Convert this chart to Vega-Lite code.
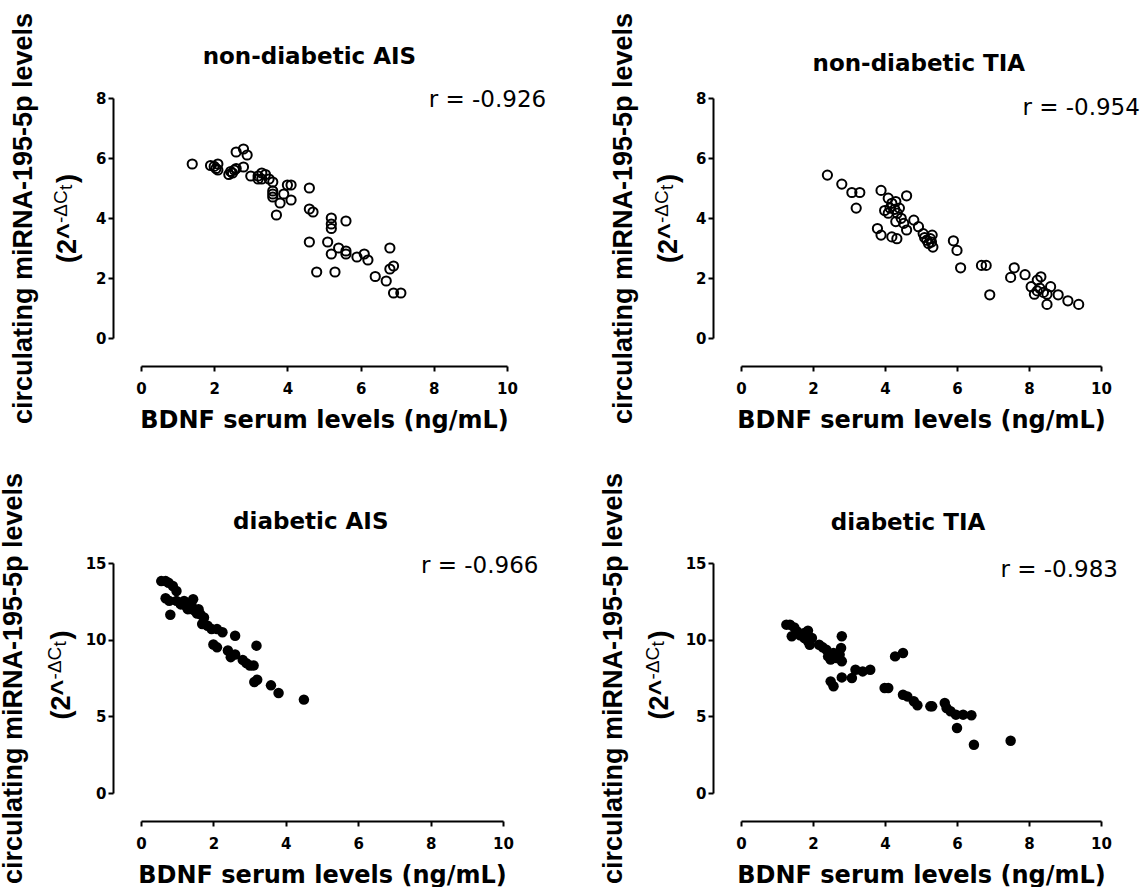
{
  "$schema": "https://vega.github.io/schema/vega-lite/v6.json",
  "background": "white",
  "padding": {"left": -1, "top": 12, "right": 0, "bottom": 0},
  "bounds": "flush",
  "columns": 2,
  "spacing": {"row": 225, "column": 234},
  "datasets": {
    "nd_ais": [
      {"bdnf": 1.4, "mirna": 5.8}, {"bdnf": 1.9, "mirna": 5.75}, {"bdnf": 2.0, "mirna": 5.72}, {"bdnf": 2.1, "mirna": 5.8},
      {"bdnf": 2.05, "mirna": 5.65}, {"bdnf": 2.1, "mirna": 5.6}, {"bdnf": 2.4, "mirna": 5.45}, {"bdnf": 2.45, "mirna": 5.55},
      {"bdnf": 2.5, "mirna": 5.5}, {"bdnf": 2.55, "mirna": 5.6}, {"bdnf": 2.6, "mirna": 5.65}, {"bdnf": 2.6, "mirna": 6.2},
      {"bdnf": 2.8, "mirna": 6.3}, {"bdnf": 2.9, "mirna": 6.1}, {"bdnf": 2.8, "mirna": 5.7}, {"bdnf": 3.0, "mirna": 5.4},
      {"bdnf": 3.2, "mirna": 5.4}, {"bdnf": 3.3, "mirna": 5.5}, {"bdnf": 3.4, "mirna": 5.45}, {"bdnf": 3.3, "mirna": 5.3},
      {"bdnf": 3.2, "mirna": 5.3}, {"bdnf": 3.5, "mirna": 5.3}, {"bdnf": 3.6, "mirna": 5.2}, {"bdnf": 3.6, "mirna": 4.9},
      {"bdnf": 3.6, "mirna": 4.8}, {"bdnf": 3.6, "mirna": 4.7}, {"bdnf": 3.7, "mirna": 4.1}, {"bdnf": 3.8, "mirna": 4.5},
      {"bdnf": 3.9, "mirna": 4.8}, {"bdnf": 4.0, "mirna": 5.1}, {"bdnf": 4.1, "mirna": 5.1}, {"bdnf": 4.1, "mirna": 4.6},
      {"bdnf": 4.6, "mirna": 5.0}, {"bdnf": 4.6, "mirna": 4.3}, {"bdnf": 4.7, "mirna": 4.2}, {"bdnf": 4.6, "mirna": 3.2},
      {"bdnf": 4.8, "mirna": 2.2}, {"bdnf": 5.1, "mirna": 3.2}, {"bdnf": 5.2, "mirna": 4.0}, {"bdnf": 5.2, "mirna": 3.8},
      {"bdnf": 5.2, "mirna": 3.65}, {"bdnf": 5.2, "mirna": 2.8}, {"bdnf": 5.3, "mirna": 2.2}, {"bdnf": 5.4, "mirna": 3.0},
      {"bdnf": 5.6, "mirna": 3.9}, {"bdnf": 5.6, "mirna": 2.9}, {"bdnf": 5.6, "mirna": 2.8}, {"bdnf": 5.9, "mirna": 2.7},
      {"bdnf": 6.1, "mirna": 2.8}, {"bdnf": 6.2, "mirna": 2.6}, {"bdnf": 6.4, "mirna": 2.05}, {"bdnf": 6.7, "mirna": 1.9},
      {"bdnf": 6.8, "mirna": 3.0}, {"bdnf": 6.8, "mirna": 2.3}, {"bdnf": 6.9, "mirna": 2.4}, {"bdnf": 6.9, "mirna": 1.5},
      {"bdnf": 7.1, "mirna": 1.5}
    ],
    "nd_tia": [
      {"bdnf": 2.4, "mirna": 5.43}, {"bdnf": 2.8, "mirna": 5.13}, {"bdnf": 3.08, "mirna": 4.85}, {"bdnf": 3.3, "mirna": 4.85},
      {"bdnf": 3.2, "mirna": 4.33}, {"bdnf": 3.89, "mirna": 4.92}, {"bdnf": 3.79, "mirna": 3.65}, {"bdnf": 3.89, "mirna": 3.43},
      {"bdnf": 4.19, "mirna": 3.37}, {"bdnf": 4.33, "mirna": 3.31}, {"bdnf": 3.99, "mirna": 4.25}, {"bdnf": 4.09, "mirna": 4.16},
      {"bdnf": 4.09, "mirna": 4.66}, {"bdnf": 4.19, "mirna": 4.49}, {"bdnf": 4.3, "mirna": 4.55}, {"bdnf": 4.14, "mirna": 4.33},
      {"bdnf": 4.27, "mirna": 4.29}, {"bdnf": 4.34, "mirna": 4.16}, {"bdnf": 4.4, "mirna": 4.33}, {"bdnf": 4.45, "mirna": 3.99},
      {"bdnf": 4.3, "mirna": 3.88}, {"bdnf": 4.6, "mirna": 4.74}, {"bdnf": 4.6, "mirna": 3.6}, {"bdnf": 4.52, "mirna": 3.82},
      {"bdnf": 4.8, "mirna": 3.93}, {"bdnf": 4.93, "mirna": 3.71}, {"bdnf": 5.06, "mirna": 3.48}, {"bdnf": 5.1, "mirna": 3.35},
      {"bdnf": 5.16, "mirna": 3.26}, {"bdnf": 5.21, "mirna": 3.15}, {"bdnf": 5.26, "mirna": 3.31}, {"bdnf": 5.31, "mirna": 3.43},
      {"bdnf": 5.33, "mirna": 3.03}, {"bdnf": 5.29, "mirna": 3.2}, {"bdnf": 5.9, "mirna": 3.24}, {"bdnf": 6.0, "mirna": 2.92},
      {"bdnf": 6.1, "mirna": 2.34}, {"bdnf": 6.68, "mirna": 2.42}, {"bdnf": 6.81, "mirna": 2.42}, {"bdnf": 6.91, "mirna": 1.44},
      {"bdnf": 7.49, "mirna": 2.02}, {"bdnf": 7.59, "mirna": 2.34}, {"bdnf": 7.89, "mirna": 2.11}, {"bdnf": 8.06, "mirna": 1.71},
      {"bdnf": 8.23, "mirna": 1.93}, {"bdnf": 8.33, "mirna": 2.04}, {"bdnf": 8.15, "mirna": 1.46}, {"bdnf": 8.23, "mirna": 1.57},
      {"bdnf": 8.3, "mirna": 1.66}, {"bdnf": 8.4, "mirna": 1.52}, {"bdnf": 8.5, "mirna": 1.46}, {"bdnf": 8.6, "mirna": 1.71},
      {"bdnf": 8.5, "mirna": 1.12}, {"bdnf": 8.81, "mirna": 1.44}, {"bdnf": 9.08, "mirna": 1.24}, {"bdnf": 9.38, "mirna": 1.12}
    ],
    "d_ais": [
      {"bdnf": 0.56, "mirna": 13.82}, {"bdnf": 0.68, "mirna": 13.82}, {"bdnf": 0.76, "mirna": 13.71}, {"bdnf": 0.88, "mirna": 13.5},
      {"bdnf": 0.98, "mirna": 13.17}, {"bdnf": 0.68, "mirna": 12.7}, {"bdnf": 0.78, "mirna": 12.53}, {"bdnf": 0.81, "mirna": 11.62},
      {"bdnf": 0.98, "mirna": 12.53}, {"bdnf": 1.1, "mirna": 12.3}, {"bdnf": 1.19, "mirna": 12.53}, {"bdnf": 1.25, "mirna": 12.2},
      {"bdnf": 1.29, "mirna": 11.99}, {"bdnf": 1.35, "mirna": 12.0}, {"bdnf": 1.39, "mirna": 12.31}, {"bdnf": 1.44, "mirna": 12.64},
      {"bdnf": 1.49, "mirna": 11.88}, {"bdnf": 1.55, "mirna": 11.7}, {"bdnf": 1.59, "mirna": 11.99}, {"bdnf": 1.64, "mirna": 11.66},
      {"bdnf": 1.74, "mirna": 11.45}, {"bdnf": 1.69, "mirna": 11.02}, {"bdnf": 1.84, "mirna": 10.91}, {"bdnf": 1.95, "mirna": 10.69},
      {"bdnf": 2.1, "mirna": 10.69}, {"bdnf": 2.25, "mirna": 10.48}, {"bdnf": 2.0, "mirna": 9.68}, {"bdnf": 2.1, "mirna": 9.5},
      {"bdnf": 2.4, "mirna": 9.29}, {"bdnf": 2.48, "mirna": 8.86}, {"bdnf": 2.6, "mirna": 9.03}, {"bdnf": 2.6, "mirna": 10.26},
      {"bdnf": 2.81, "mirna": 8.68}, {"bdnf": 2.91, "mirna": 8.47}, {"bdnf": 3.01, "mirna": 8.32}, {"bdnf": 3.11, "mirna": 8.32},
      {"bdnf": 3.19, "mirna": 9.61}, {"bdnf": 3.13, "mirna": 7.24}, {"bdnf": 3.21, "mirna": 7.39}, {"bdnf": 3.59, "mirna": 7.02},
      {"bdnf": 3.8, "mirna": 6.52}, {"bdnf": 4.5, "mirna": 6.09}
    ],
    "d_tia": [
      {"bdnf": 1.26, "mirna": 10.98}, {"bdnf": 1.36, "mirna": 10.98}, {"bdnf": 1.48, "mirna": 10.8}, {"bdnf": 1.41, "mirna": 10.22},
      {"bdnf": 1.56, "mirna": 10.54}, {"bdnf": 1.64, "mirna": 10.28}, {"bdnf": 1.76, "mirna": 10.11}, {"bdnf": 1.86, "mirna": 10.59},
      {"bdnf": 1.86, "mirna": 9.89}, {"bdnf": 1.91, "mirna": 9.67}, {"bdnf": 1.76, "mirna": 10.43}, {"bdnf": 1.97, "mirna": 10.11},
      {"bdnf": 2.17, "mirna": 9.67}, {"bdnf": 2.27, "mirna": 9.5}, {"bdnf": 2.37, "mirna": 9.35}, {"bdnf": 2.42, "mirna": 8.91},
      {"bdnf": 2.49, "mirna": 8.7}, {"bdnf": 2.57, "mirna": 9.13}, {"bdnf": 2.65, "mirna": 8.8}, {"bdnf": 2.78, "mirna": 9.46},
      {"bdnf": 2.8, "mirna": 10.22}, {"bdnf": 2.8, "mirna": 8.59}, {"bdnf": 2.74, "mirna": 9.02}, {"bdnf": 2.49, "mirna": 7.28},
      {"bdnf": 2.57, "mirna": 6.96}, {"bdnf": 2.8, "mirna": 7.54}, {"bdnf": 3.08, "mirna": 7.5}, {"bdnf": 3.18, "mirna": 8.04},
      {"bdnf": 3.38, "mirna": 7.93}, {"bdnf": 3.59, "mirna": 8.04}, {"bdnf": 3.99, "mirna": 6.85}, {"bdnf": 4.09, "mirna": 6.85},
      {"bdnf": 4.28, "mirna": 8.91}, {"bdnf": 4.5, "mirna": 9.13}, {"bdnf": 4.5, "mirna": 6.41}, {"bdnf": 4.62, "mirna": 6.3},
      {"bdnf": 4.8, "mirna": 5.98}, {"bdnf": 4.9, "mirna": 5.72}, {"bdnf": 5.26, "mirna": 5.65}, {"bdnf": 5.31, "mirna": 5.65},
      {"bdnf": 5.66, "mirna": 5.87}, {"bdnf": 5.71, "mirna": 5.54}, {"bdnf": 5.82, "mirna": 5.33}, {"bdnf": 5.97, "mirna": 5.11},
      {"bdnf": 6.17, "mirna": 5.11}, {"bdnf": 6.4, "mirna": 5.07}, {"bdnf": 6.0, "mirna": 4.24}, {"bdnf": 6.47, "mirna": 3.15},
      {"bdnf": 7.49, "mirna": 3.41}
    ]
  },
  "concat": [
    {
      "width": 366, "height": 240,
      "layer": [
        {
          "data": {"name": "nd_ais"},
          "mark": {"type": "point", "shape": "circle", "filled": false, "stroke": "black", "strokeWidth": 2, "size": 85, "opacity": 1},
          "encoding": {
            "x": {"field": "bdnf", "type": "quantitative", "scale": {"domain": [0, 10], "nice": false}, "axis": {"title": "BDNF serum levels (ng/mL)", "values": [0, 2, 4, 6, 8, 10]}},
            "y": {"field": "mirna", "type": "quantitative", "scale": {"domain": [0, 8], "nice": false}, "axis": {"title": "circulating miRNA-195-5p levels", "values": [0, 2, 4, 6, 8]}}
          }
        },
        {"data": {"values": [{}]}, "mark": {"type": "text", "text": "r = -0.926", "font": "DejaVu Sans", "fontSize": 23, "align": "right", "baseline": "middle", "color": "black"},
         "encoding": {"x": {"datum": 11.07, "type": "quantitative"}, "y": {"datum": 7.93, "type": "quantitative"}}},
        {"data": {"values": [{}]}, "mark": {"type": "text", "text": "non-diabetic AIS", "font": "DejaVu Sans", "fontWeight": "bold", "fontSize": 23, "align": "center", "baseline": "middle", "color": "black"},
         "encoding": {"x": {"datum": 4.6, "type": "quantitative"}, "y": {"datum": 9.37, "type": "quantitative"}}},
        {"data": {"values": [{}]}, "mark": {"type": "text", "text": "(2^", "font": "Liberation Sans", "fontWeight": "bold", "fontSize": 27, "angle": 270, "align": "left", "baseline": "alphabetic", "color": "black"},
         "encoding": {"x": {"datum": -1.78, "type": "quantitative"}, "y": {"datum": 2.5, "type": "quantitative"}}},
        {"data": {"values": [{}]}, "mark": {"type": "text", "text": "-ΔC", "font": "Liberation Sans", "fontSize": 19, "angle": 270, "align": "left", "baseline": "alphabetic", "dx": 40, "dy": -9, "color": "black"},
         "encoding": {"x": {"datum": -1.78, "type": "quantitative"}, "y": {"datum": 2.5, "type": "quantitative"}}},
        {"data": {"values": [{}]}, "mark": {"type": "text", "text": "t", "font": "Liberation Sans", "fontSize": 19, "angle": 270, "align": "left", "baseline": "alphabetic", "dx": 73, "dy": -4, "color": "black"},
         "encoding": {"x": {"datum": -1.78, "type": "quantitative"}, "y": {"datum": 2.5, "type": "quantitative"}}},
        {"data": {"values": [{}]}, "mark": {"type": "text", "text": ")", "font": "Liberation Sans", "fontWeight": "bold", "fontSize": 27, "angle": 270, "align": "left", "baseline": "alphabetic", "dx": 80, "color": "black"},
         "encoding": {"x": {"datum": -1.78, "type": "quantitative"}, "y": {"datum": 2.5, "type": "quantitative"}}}
      ]
    },
    {
      "width": 360, "height": 240,
      "layer": [
        {
          "data": {"name": "nd_tia"},
          "mark": {"type": "point", "shape": "circle", "filled": false, "stroke": "black", "strokeWidth": 2, "size": 85, "opacity": 1},
          "encoding": {
            "x": {"field": "bdnf", "type": "quantitative", "scale": {"domain": [0, 10], "nice": false}, "axis": {"title": "BDNF serum levels (ng/mL)", "values": [0, 2, 4, 6, 8, 10]}},
            "y": {"field": "mirna", "type": "quantitative", "scale": {"domain": [0, 8], "nice": false}, "axis": {"title": "circulating miRNA-195-5p levels", "values": [0, 2, 4, 6, 8]}}
          }
        },
        {"data": {"values": [{}]}, "mark": {"type": "text", "text": "r = -0.954", "font": "DejaVu Sans", "fontSize": 23, "align": "right", "baseline": "middle", "color": "black"},
         "encoding": {"x": {"datum": 11.08, "type": "quantitative"}, "y": {"datum": 7.67, "type": "quantitative"}}},
        {"data": {"values": [{}]}, "mark": {"type": "text", "text": "non-diabetic TIA", "font": "DejaVu Sans", "fontWeight": "bold", "fontSize": 23, "align": "center", "baseline": "middle", "color": "black"},
         "encoding": {"x": {"datum": 4.94, "type": "quantitative"}, "y": {"datum": 9.13, "type": "quantitative"}}},
        {"data": {"values": [{}]}, "mark": {"type": "text", "text": "(2^", "font": "Liberation Sans", "fontWeight": "bold", "fontSize": 27, "angle": 270, "align": "left", "baseline": "alphabetic", "color": "black"},
         "encoding": {"x": {"datum": -1.78, "type": "quantitative"}, "y": {"datum": 2.5, "type": "quantitative"}}},
        {"data": {"values": [{}]}, "mark": {"type": "text", "text": "-ΔC", "font": "Liberation Sans", "fontSize": 19, "angle": 270, "align": "left", "baseline": "alphabetic", "dx": 40, "dy": -9, "color": "black"},
         "encoding": {"x": {"datum": -1.78, "type": "quantitative"}, "y": {"datum": 2.5, "type": "quantitative"}}},
        {"data": {"values": [{}]}, "mark": {"type": "text", "text": "t", "font": "Liberation Sans", "fontSize": 19, "angle": 270, "align": "left", "baseline": "alphabetic", "dx": 73, "dy": -4, "color": "black"},
         "encoding": {"x": {"datum": -1.78, "type": "quantitative"}, "y": {"datum": 2.5, "type": "quantitative"}}},
        {"data": {"values": [{}]}, "mark": {"type": "text", "text": ")", "font": "Liberation Sans", "fontWeight": "bold", "fontSize": 27, "angle": 270, "align": "left", "baseline": "alphabetic", "dx": 80, "color": "black"},
         "encoding": {"x": {"datum": -1.78, "type": "quantitative"}, "y": {"datum": 2.5, "type": "quantitative"}}}
      ]
    },
    {
      "width": 362, "height": 230,
      "layer": [
        {
          "data": {"name": "d_ais"},
          "mark": {"type": "circle", "filled": true, "color": "black", "size": 110, "opacity": 1},
          "encoding": {
            "x": {"field": "bdnf", "type": "quantitative", "scale": {"domain": [0, 10], "nice": false}, "axis": {"title": "BDNF serum levels (ng/mL)", "values": [0, 2, 4, 6, 8, 10]}},
            "y": {"field": "mirna", "type": "quantitative", "scale": {"domain": [0, 15], "nice": false}, "axis": {"title": "circulating miRNA-195-5p levels", "values": [0, 5, 10, 15]}}
          }
        },
        {"data": {"values": [{}]}, "mark": {"type": "text", "text": "r = -0.966", "font": "DejaVu Sans", "fontSize": 23, "align": "right", "baseline": "middle", "color": "black"},
         "encoding": {"x": {"datum": 10.98, "type": "quantitative"}, "y": {"datum": 14.8, "type": "quantitative"}}},
        {"data": {"values": [{}]}, "mark": {"type": "text", "text": "diabetic AIS", "font": "DejaVu Sans", "fontWeight": "bold", "fontSize": 23, "align": "center", "baseline": "middle", "color": "black"},
         "encoding": {"x": {"datum": 4.69, "type": "quantitative"}, "y": {"datum": 17.7, "type": "quantitative"}}},
        {"data": {"values": [{}]}, "mark": {"type": "text", "text": "(2^", "font": "Liberation Sans", "fontWeight": "bold", "fontSize": 27, "angle": 270, "align": "left", "baseline": "alphabetic", "color": "black"},
         "encoding": {"x": {"datum": -1.97, "type": "quantitative"}, "y": {"datum": 4.8, "type": "quantitative"}}},
        {"data": {"values": [{}]}, "mark": {"type": "text", "text": "-ΔC", "font": "Liberation Sans", "fontSize": 19, "angle": 270, "align": "left", "baseline": "alphabetic", "dx": 40, "dy": -9, "color": "black"},
         "encoding": {"x": {"datum": -1.97, "type": "quantitative"}, "y": {"datum": 4.8, "type": "quantitative"}}},
        {"data": {"values": [{}]}, "mark": {"type": "text", "text": "t", "font": "Liberation Sans", "fontSize": 19, "angle": 270, "align": "left", "baseline": "alphabetic", "dx": 73, "dy": -4, "color": "black"},
         "encoding": {"x": {"datum": -1.97, "type": "quantitative"}, "y": {"datum": 4.8, "type": "quantitative"}}},
        {"data": {"values": [{}]}, "mark": {"type": "text", "text": ")", "font": "Liberation Sans", "fontWeight": "bold", "fontSize": 27, "angle": 270, "align": "left", "baseline": "alphabetic", "dx": 80, "color": "black"},
         "encoding": {"x": {"datum": -1.97, "type": "quantitative"}, "y": {"datum": 4.8, "type": "quantitative"}}}
      ]
    },
    {
      "width": 360, "height": 230,
      "layer": [
        {
          "data": {"name": "d_tia"},
          "mark": {"type": "circle", "filled": true, "color": "black", "size": 110, "opacity": 1},
          "encoding": {
            "x": {"field": "bdnf", "type": "quantitative", "scale": {"domain": [0, 10], "nice": false}, "axis": {"title": "BDNF serum levels (ng/mL)", "values": [0, 2, 4, 6, 8, 10]}},
            "y": {"field": "mirna", "type": "quantitative", "scale": {"domain": [0, 15], "nice": false}, "axis": {"title": "circulating miRNA-195-5p levels", "values": [0, 5, 10, 15]}}
          }
        },
        {"data": {"values": [{}]}, "mark": {"type": "text", "text": "r = -0.983", "font": "DejaVu Sans", "fontSize": 23, "align": "right", "baseline": "middle", "color": "black"},
         "encoding": {"x": {"datum": 10.47, "type": "quantitative"}, "y": {"datum": 14.55, "type": "quantitative"}}},
        {"data": {"values": [{}]}, "mark": {"type": "text", "text": "diabetic TIA", "font": "DejaVu Sans", "fontWeight": "bold", "fontSize": 23, "align": "center", "baseline": "middle", "color": "black"},
         "encoding": {"x": {"datum": 4.64, "type": "quantitative"}, "y": {"datum": 17.6, "type": "quantitative"}}},
        {"data": {"values": [{}]}, "mark": {"type": "text", "text": "(2^", "font": "Liberation Sans", "fontWeight": "bold", "fontSize": 27, "angle": 270, "align": "left", "baseline": "alphabetic", "color": "black"},
         "encoding": {"x": {"datum": -2.03, "type": "quantitative"}, "y": {"datum": 4.8, "type": "quantitative"}}},
        {"data": {"values": [{}]}, "mark": {"type": "text", "text": "-ΔC", "font": "Liberation Sans", "fontSize": 19, "angle": 270, "align": "left", "baseline": "alphabetic", "dx": 40, "dy": -9, "color": "black"},
         "encoding": {"x": {"datum": -2.03, "type": "quantitative"}, "y": {"datum": 4.8, "type": "quantitative"}}},
        {"data": {"values": [{}]}, "mark": {"type": "text", "text": "t", "font": "Liberation Sans", "fontSize": 19, "angle": 270, "align": "left", "baseline": "alphabetic", "dx": 73, "dy": -4, "color": "black"},
         "encoding": {"x": {"datum": -2.03, "type": "quantitative"}, "y": {"datum": 4.8, "type": "quantitative"}}},
        {"data": {"values": [{}]}, "mark": {"type": "text", "text": ")", "font": "Liberation Sans", "fontWeight": "bold", "fontSize": 27, "angle": 270, "align": "left", "baseline": "alphabetic", "dx": 80, "color": "black"},
         "encoding": {"x": {"datum": -2.03, "type": "quantitative"}, "y": {"datum": 4.8, "type": "quantitative"}}}
      ]
    }
  ],
  "config": {
    "view": {"stroke": null},
    "font": "DejaVu Sans",
    "axis": {
      "grid": false,
      "domainColor": "black", "domainWidth": 2, "tickColor": "black", "tickWidth": 2, "tickSize": 5,
      "labelFont": "DejaVu Sans", "labelFontWeight": "bold", "labelFontSize": 15, "labelColor": "black",
      "titleColor": "black", "titleFontWeight": "bold"
    },
    "axisX": {"offset": 28, "labelPadding": 10, "labelFlush": false, "titleFont": "DejaVu Sans", "titleFontSize": 24, "titlePadding": 12},
    "axisY": {"offset": 28, "labelPadding": 2, "titleFont": "Liberation Sans", "titleFontSize": 27, "titlePadding": 58}
  }
}
